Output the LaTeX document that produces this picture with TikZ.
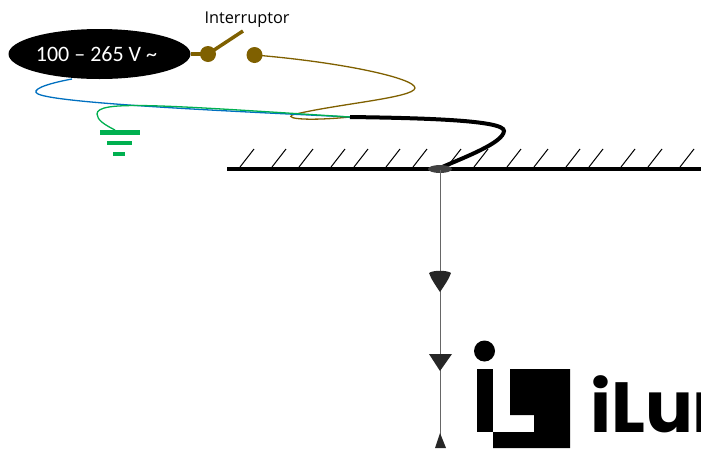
\documentclass[tikz,border=0pt]{standalone}
\usetikzlibrary{shapes.geometric}
\usepackage{fontspec}
\setmainfont{Carlito}
\newfontfamily\labelfont{Open Sans}
\newfontfamily\logofont{Poppins}
\definecolor{brownw}{HTML}{7F6000}
\definecolor{bluew}{HTML}{0070C0}
\definecolor{greenw}{HTML}{00B050}
\tikzset{
  x=1pt,y=-1pt,
  wire/.style={line width=1.3pt},
  hatch/.style={line width=1pt,black},
  lampdrop/.style={fill=black!85,draw=none},
  pin/.style={circle,fill=brownw,inner sep=0pt,minimum size=16pt},
  gnd/.style={draw=greenw},
}
\begin{document}
\begin{tikzpicture}
\useasboundingbox (0,0) rectangle (701,448);
\clip (0,0) rectangle (701,448);
% ceiling
\draw[line width=4pt] (227,169) -- (701,169);
\foreach \b in {240,272,299,331,354,386,413,447,474,507,534,566,589,621,648,680}
  \draw[hatch] (\b,167) -- (\b+14,149);
% source
\node[ellipse,fill=black,minimum width=182pt,minimum height=50pt,inner sep=0pt,text=white,font=\fontsize{22}{24}\selectfont] (src) at (99.5,54) {\hspace*{-6pt}100 – 265 V \textasciitilde};
\node[font=\labelfont\fontsize{16.3}{18}\selectfont,inner sep=0pt] (lbl) at (247,19.5) {Interruptor};
\node[pin] (p1) at (208,54) {};
\node[pin] (p2) at (254.5,55) {};
\coordinate (lever) at (243,31);
\draw[brownw,line width=3.5pt] (src.east) -- (p1.center);
\draw[brownw,line width=3.5pt] (p1.center) -- (lever);
% wires
\coordinate (join) at (350,117);
\coordinate (gtop) at (115,130);
\coordinate (rose) at (440,168);
\draw[brownw,wire] (p2.center) .. controls (340,62) and (415,78) .. (415,88)
  .. controls (414,98) and (335,104) .. (292,115) .. controls (285,119) and (310,121) .. (join);
\draw[bluew,wire] (72,79) .. controls (45,84) and (30,90) .. (38,94)
  .. controls (60,104) and (250,112) .. (join);
\draw[greenw,wire] (gtop) .. controls (105,125) and (97,120) .. (97,114)
  .. controls (97,100) and (160,105) .. (join);
\draw[line width=4pt] (join) .. controls (420,118) and (505,120) .. (504,131)
  .. controls (503,143) and (465,157) .. (rose);
% ground
\draw[gnd,line width=5pt] (100,132) -- (140,132);
\draw[gnd,line width=4.5pt] (107,143) -- (132,143);
\draw[gnd,line width=4pt] (113,154) -- (125,154);
% lamp
\fill[black!75] (440,169) ellipse (12pt and 4pt);
\draw[black!60,line width=1pt] (440,170) -- (440,448);
\fill[lampdrop] (429,273) .. controls (433,270) and (447,270) .. (451,273) .. controls (449,279) and (444,286) .. (440,292) .. controls (436,286) and (431,279) .. (429,273) -- cycle;
\fill[lampdrop] (429,354) -- (452,354) -- (440,371) -- cycle;
\fill[lampdrop] (440,433) -- (446,448) -- (435,448) -- cycle;
% logo
\fill (484.5,351) circle (10.5pt);
\fill (477,369) rectangle (493,432);
\fill (510,369) -- (570,369) -- (570,448) -- (493,448) -- (493,432) -- (534,432) -- (534,415) -- (510,415) -- cycle;
\node[anchor=base west,inner sep=0pt,font=\logofont\bfseries\fontsize{71}{71}\selectfont] (logo) at (590,432) {iLum};
\end{tikzpicture}
\end{document}
